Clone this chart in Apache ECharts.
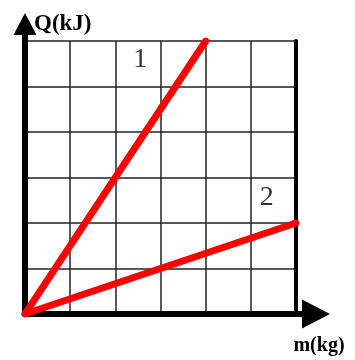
<!DOCTYPE html>
<html>
<head>
<meta charset="utf-8">
<script src="https://cdn.jsdelivr.net/npm/echarts@6/dist/echarts.min.js"></script>
<style>
  html, body { margin: 0; padding: 0; background: #fff; }
  #chart { width: 355px; height: 360px; }
</style>
</head>
<body>
<div id="chart"></div>
<script>
'use strict';

// data in grid units (one cell = 1)
var line1 = [[0, 0], [4, 6]];
var line2 = [[0, 0], [6, 2]];
var lineLabels = [
  { name: '1', value: [2.55, 5.6] },
  { name: '2', value: [5.35, 2.55] }
];
var xName = 'm(kg)';
var yName = 'Q(kJ)';

var serif = '"Liberation Serif", "DejaVu Serif", serif';
var gridLine = { color: '#222', width: 1.5 };

var chart = echarts.init(document.getElementById('chart'));

var option = {
  animation: false,
  backgroundColor: '#fff',
  grid: [
    // grid with the cells and data
    { left: 25, right: 59, top: 41, bottom: 46 },
    // only the arrowed axes
    { left: 25, right: 39, top: 24, bottom: 46 }
  ],
  xAxis: [
    {
      gridIndex: 0, type: 'value', min: 0, max: 6, interval: 1,
      axisLine: { show: false }, axisTick: { show: false }, axisLabel: { show: false },
      splitLine: { show: true, lineStyle: gridLine }
    },
    {
      gridIndex: 1, type: 'value', min: 0, max: 1,
      axisLine: {
        show: true, symbol: ['none', 'triangle'], symbolSize: [29, 28],
        lineStyle: { color: '#000', width: 6 }
      },
      axisTick: { show: false }, axisLabel: { show: false }, splitLine: { show: false },
      name: xName, nameLocation: 'end', nameGap: 0,
      nameTextStyle: {
        fontFamily: serif, fontSize: 20, fontWeight: 'bold', color: '#000',
        align: 'center', verticalAlign: 'top', padding: [22, 0, 0, 6]
      }
    }
  ],
  yAxis: [
    {
      gridIndex: 0, type: 'value', min: 0, max: 6, interval: 1,
      axisLine: { show: false }, axisTick: { show: false }, axisLabel: { show: false },
      splitLine: { show: true, lineStyle: gridLine }
    },
    {
      // thick right border
      gridIndex: 0, type: 'value', position: 'right', min: 0, max: 6,
      axisLine: { show: true, lineStyle: { color: '#000', width: 4 } },
      axisTick: { show: false }, axisLabel: { show: false }, splitLine: { show: false }
    },
    {
      gridIndex: 1, type: 'value', min: 0, max: 1,
      axisLine: {
        show: true, symbol: ['none', 'triangle'], symbolSize: [23, 22],
        lineStyle: { color: '#000', width: 6 }
      },
      axisTick: { show: false }, axisLabel: { show: false }, splitLine: { show: false },
      name: yName, nameLocation: 'end', nameGap: 0,
      nameTextStyle: {
        fontFamily: serif, fontSize: 23, fontWeight: 'bold', color: '#000',
        align: 'left', verticalAlign: 'middle', padding: [0, 0, 0, 9]
      }
    }
  ],
  series: [
    {
      type: 'line', xAxisIndex: 0, yAxisIndex: 0, data: line1,
      symbol: 'none', lineStyle: { color: '#ff0000', width: 7, cap: 'round' }, z: 5
    },
    {
      type: 'line', xAxisIndex: 0, yAxisIndex: 0, data: line2,
      symbol: 'none', lineStyle: { color: '#ff0000', width: 7, cap: 'round' }, z: 5
    },
    {
      type: 'scatter', xAxisIndex: 0, yAxisIndex: 0, data: lineLabels,
      symbolSize: 0,
      label: {
        show: true, position: 'inside', formatter: '{b}',
        fontFamily: serif, fontSize: 28, color: '#000',
        textBorderWidth: 0
      }
    }
  ]
};

chart.setOption(option);
</script>
</body>
</html>
